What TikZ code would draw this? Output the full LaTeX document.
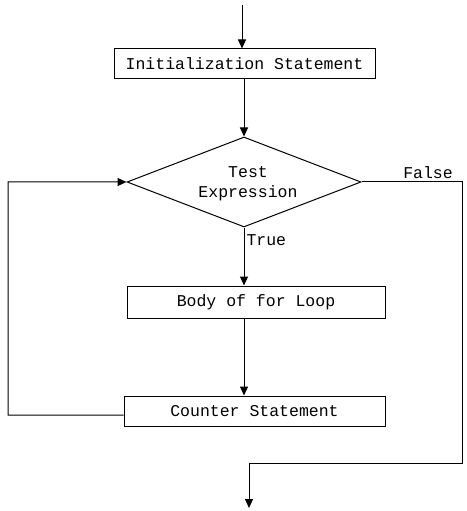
\documentclass[tikz,border=0pt]{standalone}
\usepackage{fontspec}
\setmonofont{Liberation Mono}
\usetikzlibrary{shapes.geometric,arrows.meta}
\begin{document}
\begin{tikzpicture}[x=1bp,y=-1bp,
  font=\ttfamily\fontsize{16.5bp}{20bp}\selectfont,
  line width=1bp,
  >={Triangle[length=9bp,width=8bp]},
  box/.style={draw, rectangle, minimum height=30bp, inner sep=0pt},
  lbl/.style={inner sep=0pt}]
\useasboundingbox (0,0) rectangle (467,511);
\node[box, minimum width=261bp] (init) at (244.5,64) {Initialization Statement};
\node[draw, diamond, minimum width=234bp, minimum height=90bp, inner sep=0pt] (test) at (244,182) {};
\node[lbl, align=center] (testtext) at (248,184) {Test\\Expression};
\node[box, minimum width=258bp, minimum height=32bp] (body) at (256,302) {Body of for Loop};
\node[box, minimum width=261bp] (counter) at (254.5,411) {Counter Statement};
\node[lbl, anchor=west] (truelbl) at (246,240) {True};
\node[lbl] (falselbl) at (428,173) {False};
\coordinate (start) at (242,5);
\coordinate (exit) at (249,508);
\coordinate (loopcorner) at (8,415);
\coordinate (falsecorner) at (462,463);
\draw[->] (start) -- (start |- init.north);
\draw[->] (test.north |- init.south) -- (test.north);
\draw[->] (test.south) -- (test.south |- body.north);
\draw[->] (test.south |- body.south) -- (test.south |- counter.north);
\draw[->] ([yshift=-4bp]counter.west) -- (loopcorner) |- (test.west);
\draw[->] (test.east) -| (falsecorner) -| (exit);
\end{tikzpicture}
\end{document}
